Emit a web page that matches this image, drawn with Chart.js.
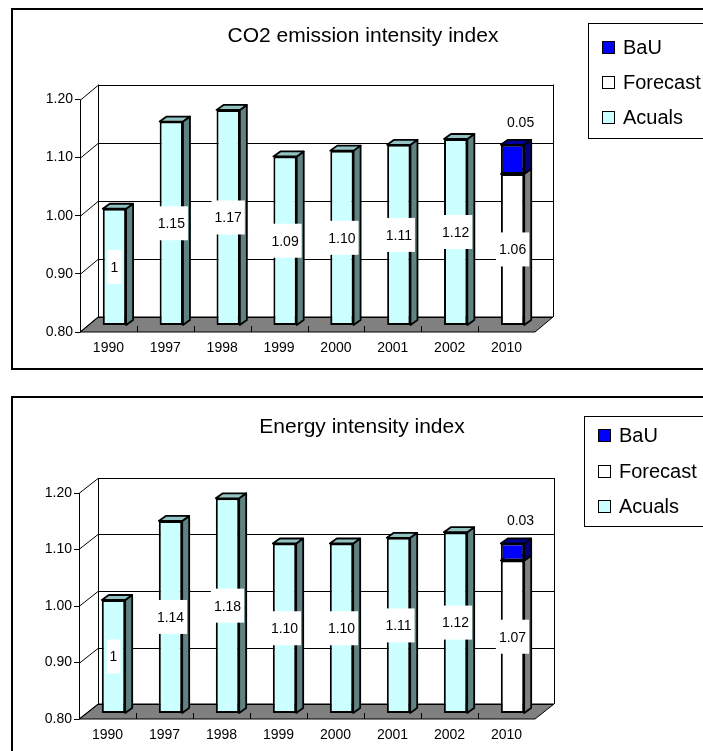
<!DOCTYPE html>
<html>
<head>
<meta charset="utf-8">
<title>Intensity indexes</title>
<script src="https://cdn.jsdelivr.net/npm/chart.js@4.4.1/dist/chart.umd.min.js"></script>
<style>
  body { margin: 0; background: #fff; }
  canvas { display: block; }
</style>
</head>
<body>
<canvas id="co2" width="703" height="380"></canvas>
<canvas id="energy" width="703" height="371"></canvas>
<script>
const years = ['1990', '1997', '1998', '1999', '2000', '2001', '2002', '2010'];
const yTicks = [0.8, 0.9, 1.0, 1.1, 1.2];

const co2Actuals = [1, 1.15, 1.17, 1.09, 1.10, 1.11, 1.12, null];
const co2Forecast = [null, null, null, null, null, null, null, 1.06];
const co2Bau = [null, null, null, null, null, null, null, 0.05];

const energyActuals = [1, 1.14, 1.18, 1.10, 1.10, 1.11, 1.12, null];
const energyForecast = [null, null, null, null, null, null, null, 1.07];
const energyBau = [null, null, null, null, null, null, null, 0.03];

const FONT = '"Liberation Sans", Arial, sans-serif';
const yMin = yTicks[0];

function fmt(v) {
  return Number.isInteger(v) ? String(v) : v.toFixed(2);
}

// pseudo 3D: walls + floor behind the bars, side/top faces on every bar,
// value boxes, title and a legend box that runs off the right edge
const box3d = {
  id: 'box3d',
  beforeDatasetsDraw(chart, args, o) {
    const { ctx, chartArea: a, scales: { x, y } } = chart;
    const [dx, dy] = o.wall;
    ctx.save();
    ctx.strokeStyle = '#000';
    ctx.lineWidth = 1;

    ctx.fillStyle = '#808080';
    ctx.beginPath();
    ctx.moveTo(a.left, a.bottom);
    ctx.lineTo(a.right, a.bottom);
    ctx.lineTo(a.right + dx, a.bottom + dy);
    ctx.lineTo(a.left + dx, a.bottom + dy);
    ctx.closePath();
    ctx.fill();
    ctx.stroke();

    ctx.beginPath();
    yTicks.forEach(t => {
      const py = Math.round(y.getPixelForValue(t)) + 0.5;
      ctx.moveTo(a.left, py);
      ctx.lineTo(a.left + dx, py + dy);
      ctx.lineTo(a.right + dx, py + dy);
    });
    const lx = Math.round(a.left) + 0.5, bx = Math.round(a.left + dx) + 0.5, rx = Math.round(a.right + dx) + 0.5;
    ctx.moveTo(lx, a.top);
    ctx.lineTo(lx, a.bottom);
    ctx.moveTo(bx, a.top + dy);
    ctx.lineTo(bx, a.bottom + dy);
    ctx.moveTo(rx, a.top + dy);
    ctx.lineTo(rx, a.bottom + dy);
    for (let i = 1; i < years.length; i++) {
      const tx = Math.round((x.getPixelForValue(i - 1) + x.getPixelForValue(i)) / 2) + 0.5;
      ctx.moveTo(tx, a.bottom);
      ctx.lineTo(tx, a.bottom - 6);
    }
    ctx.stroke();
    ctx.restore();
  },
  beforeDatasetDraw(chart, args, o) {
    chart.ctx.save();
    chart.ctx.translate(o.shift[0], o.shift[1]);
  },
  afterDatasetDraw(chart, args, o) {
    const ctx = chart.ctx;
    const ds = chart.data.datasets[args.index];
    const [ex, ey] = o.depth;
    ctx.lineWidth = 1.8;
    ctx.strokeStyle = '#000';
    ctx.lineJoin = 'round';
    args.meta.data.forEach((bar, i) => {
      if (ds.data[i] == null) return;
      const l = bar.x - bar.width / 2, r = bar.x + bar.width / 2;
      ctx.fillStyle = ds.sideColor;
      ctx.beginPath();
      ctx.moveTo(r, bar.y);
      ctx.lineTo(r + ex, bar.y + ey);
      ctx.lineTo(r + ex, bar.base + ey);
      ctx.lineTo(r, bar.base);
      ctx.closePath();
      ctx.fill();
      ctx.stroke();
      ctx.fillStyle = ds.topColor;
      ctx.beginPath();
      ctx.moveTo(l, bar.y);
      ctx.lineTo(r, bar.y);
      ctx.lineTo(r + ex, bar.y + ey);
      ctx.lineTo(l + ex, bar.y + ey);
      ctx.closePath();
      ctx.fill();
      ctx.stroke();
    });
    ctx.restore();
  },
  afterDatasetsDraw(chart, args, o) {
    const ctx = chart.ctx;
    const [sx, sy] = o.shift;
    ctx.save();
    ctx.font = '14px ' + FONT;
    ctx.textAlign = 'center';
    ctx.textBaseline = 'middle';
    chart.data.datasets.forEach((ds, di) => {
      chart.getDatasetMeta(di).data.forEach((bar, i) => {
        const v = ds.values[i];
        if (v == null) return;
        const txt = fmt(v);
        if (ds.labelAbove) {
          ctx.fillStyle = '#000';
          ctx.fillText(txt, bar.x + sx + 8, bar.y + sy - 22);
          return;
        }
        const cx = bar.x + sx;
        const cy = (bar.y + bar.base) / 2 + sy;
        const w = ctx.measureText(txt).width + 6;
        ctx.fillStyle = '#fff';
        ctx.fillRect(cx - w / 2, cy - 17, w, 34);
        ctx.fillStyle = '#000';
        ctx.fillText(txt, cx, cy + 1);
      });
    });
    ctx.restore();
  },
  afterDraw(chart, args, o) {
    const ctx = chart.ctx;
    ctx.save();
    ctx.strokeStyle = '#000';
    ctx.lineWidth = 2;
    ctx.strokeRect(o.frame[0], o.frame[1], 800, o.frame[2]);

    ctx.fillStyle = '#000';
    ctx.font = '21px ' + FONT;
    ctx.textAlign = 'center';
    ctx.textBaseline = 'middle';
    ctx.fillText(o.title, o.titlePos[0], o.titlePos[1]);

    const L = o.legend;
    ctx.lineWidth = 1;
    ctx.strokeRect(L.x + 0.5, L.top + 0.5, 200, L.bottom - L.top);
    ctx.font = '20px ' + FONT;
    ctx.textAlign = 'left';
    chart.data.datasets.forEach((ds, i) => {
      const cy = Math.round(L.first + i * L.gap);
      ctx.fillStyle = ds.backgroundColor;
      ctx.fillRect(L.x + 14.5, cy - 5.5, 12, 12);
      ctx.strokeRect(L.x + 14.5, cy - 5.5, 12, 12);
      ctx.fillStyle = '#000';
      ctx.fillText(ds.label, L.x + 35, cy + 1);
    });
    ctx.restore();
  }
};

function intensityChart(id, cfg) {
  const a = cfg.area;
  return new Chart(document.getElementById(id), {
    type: 'bar',
    data: {
      labels: years,
      datasets: [
        {
          label: 'BaU',
          values: cfg.bau,
          data: cfg.bau.map((v, i) => v == null ? null : [cfg.forecast[i], cfg.forecast[i] + v]),
          backgroundColor: '#0000ff', sideColor: '#000080', topColor: '#000099',
          labelAbove: true
        },
        {
          label: 'Forecast',
          values: cfg.forecast,
          data: cfg.forecast.map(v => v == null ? null : [yMin, v]),
          backgroundColor: '#ffffff', sideColor: '#808080', topColor: '#c0c0c0'
        },
        {
          label: 'Acuals',
          values: cfg.actuals,
          data: cfg.actuals.map(v => v == null ? null : [yMin, v]),
          backgroundColor: '#ccffff', sideColor: '#5f8282', topColor: '#92c2c2'
        }
      ]
    },
    options: {
      responsive: false,
      animation: false,
      events: [],
      layout: { padding: { left: 0, right: 703 - a.right, top: a.top, bottom: 0 } },
      datasets: {
        bar: {
          barPercentage: 0.41,
          categoryPercentage: 1,
          borderColor: '#000',
          borderWidth: 2,
          borderSkipped: false,
          clip: false
        }
      },
      scales: {
        x: {
          stacked: true,
          grid: { display: true, drawOnChartArea: false, drawTicks: false },
          border: { display: false },
          ticks: { color: '#000', font: { family: FONT, size: 14 }, padding: 8, maxRotation: 0 },
          afterFit: s => { s.height = a.xh; }
        },
        y: {
          min: yTicks[0],
          max: yTicks[yTicks.length - 1],
          grid: { drawOnChartArea: false, tickLength: 5, color: '#000' },
          border: { display: false },
          ticks: { color: '#000', font: { family: FONT, size: 14 }, padding: 2, callback: v => v.toFixed(2) },
          afterBuildTicks: s => { s.ticks = yTicks.map(v => ({ value: v })); },
          afterFit: s => { s.width = a.left; }
        }
      },
      plugins: {
        legend: { display: false },
        tooltip: { enabled: false },
        box3d: cfg.look
      }
    },
    plugins: [box3d]
  });
}

intensityChart('co2', {
  actuals: co2Actuals, forecast: co2Forecast, bau: co2Bau,
  area: { left: 80, right: 535, top: 99.5, xh: 48 },
  look: {
    title: 'CO2 emission intensity index', titlePos: [363, 36],
    frame: [12, 9, 360],
    wall: [18, -15], shift: [6, -7], depth: [7, -5],
    legend: { x: 588, top: 23, bottom: 138, first: 47, gap: 35 }
  }
});

intensityChart('energy', {
  actuals: energyActuals, forecast: energyForecast, bau: energyBau,
  area: { left: 79, right: 535, top: 113, xh: 32 },
  look: {
    title: 'Energy intensity index', titlePos: [362, 47],
    frame: [12, 17, 500],
    wall: [19, -15], shift: [6, -6], depth: [7, -5],
    legend: { x: 584, top: 36, bottom: 146, first: 55, gap: 35.5 }
  }
});
</script>
</body>
</html>
